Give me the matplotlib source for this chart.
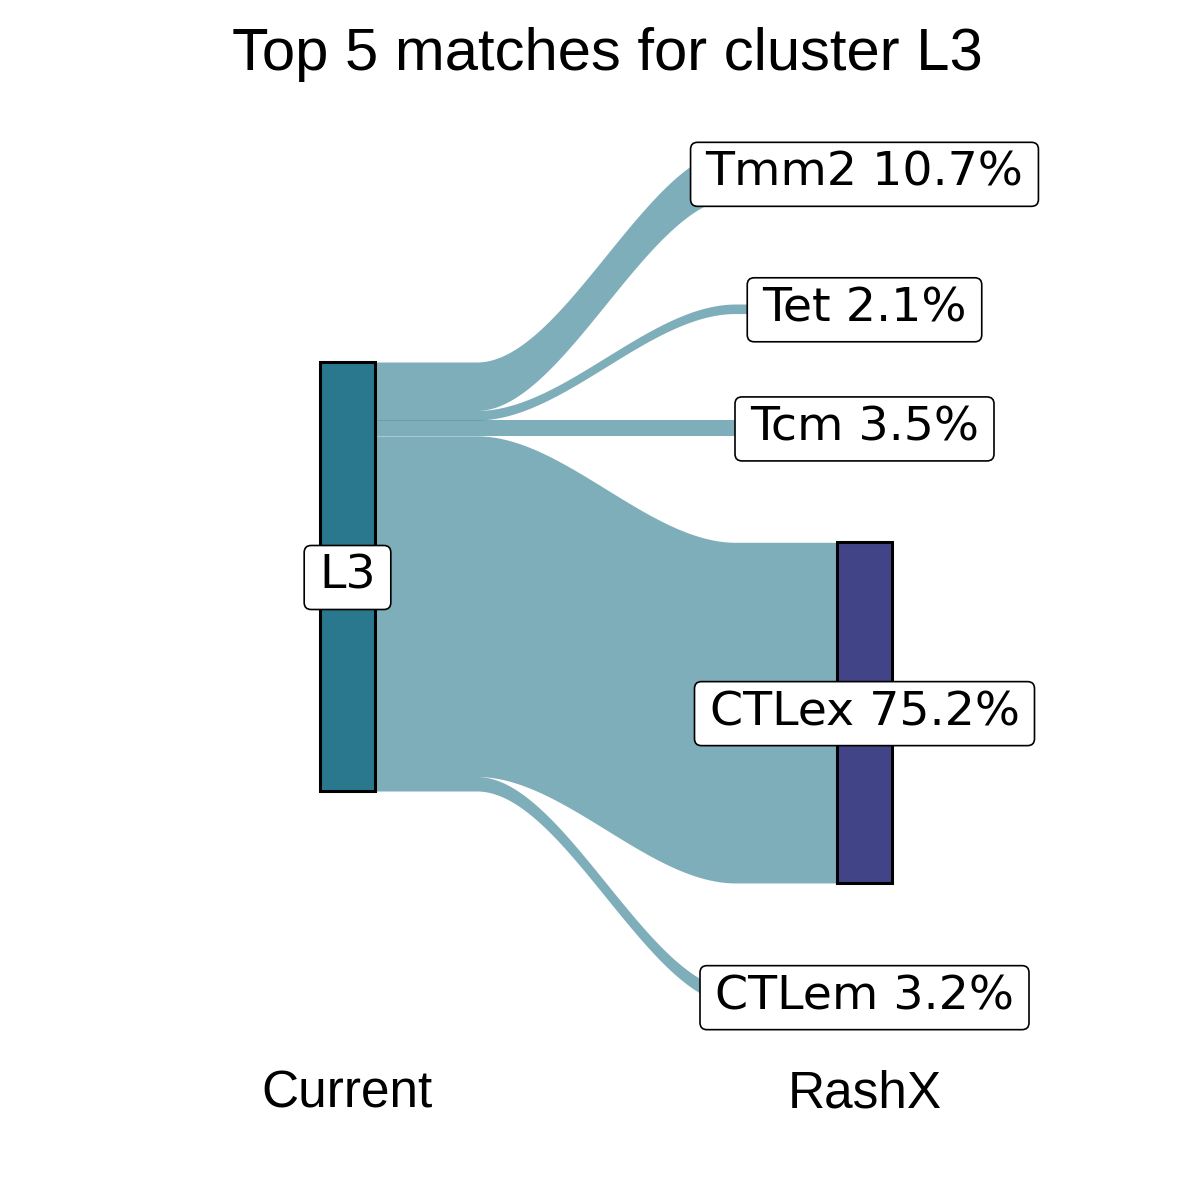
import matplotlib
matplotlib.use("Agg")
import matplotlib.pyplot as plt
from matplotlib.patches import Rectangle, FancyBboxPatch
from matplotlib.transforms import IdentityTransform
import numpy as np

# data
source = "L3"
targets = ["Tmm2", "Tet", "Tcm", "CTLex", "CTLem"]
percents = [10.7, 2.1, 3.5, 75.2, 3.2]
axis_names = ["Current", "RashX"]
title = "Top 5 matches for cluster L3"

left_col = "#2A788E"
right_col = "#414487"
flow_col = "#2A788E"

# layout (data units)
x_left, x_right = 1.0, 2.0
w = 0.106          # stratum width
gap = 23.5         # gap between right-hand strata


def sig(t):
    # flat ends, smooth s-shape in the middle (similar to ggalluvial xspline)
    u = np.clip((t - 0.22) / 0.56, 0, 1)
    return 3 * u**2 - 2 * u**3


fig = plt.figure(figsize=(12, 12), dpi=100)
ax = fig.add_axes([0, 0, 1, 1])
ax.set_xlim(1 - 347.5 / 517, 1 + (1200 - 347.5) / 517)
ax.set_ylim(-(1200 - 576.5) / 4.53, 576.5 / 4.53)
ax.axis("off")

total = sum(percents)
# left stratum spans whole total, right strata stacked with gaps
left_top = total / 2
right_top = (total + gap * (len(percents) - 1)) / 2

xs = np.linspace(x_left + w / 2, x_right - w / 2, 300)
t = (xs - xs[0]) / (xs[-1] - xs[0])

ly = left_top
ry = right_top
right_spans = []
for name, p in zip(targets, percents):
    l0, l1 = ly, ly - p
    r0, r1 = ry, ry - p
    top = l0 + (r0 - l0) * sig(t)
    bot = l1 + (r1 - l1) * sig(t)
    ax.fill_between(xs, bot, top, color=flow_col, alpha=0.6, lw=0, zorder=1)
    right_spans.append((r1, r0))
    ly -= p
    ry -= p + gap

# strata
ax.add_patch(Rectangle((x_left - w / 2, -total / 2), w, total,
                       facecolor=left_col, edgecolor="black", lw=2.2, zorder=2))
for name, (b, tp) in zip(targets, right_spans):
    ax.add_patch(Rectangle((x_right - w / 2, b), w, tp - b,
                           facecolor=right_col, edgecolor="black", lw=2.2, zorder=2))

# labels (boxes drawn afterwards, sized from the text extent)
labels = [ax.text(x_left, 0, source, ha="center", va="center", fontsize=34.2,
                  family="DejaVu Sans", zorder=4)]
for name, p, (b, tp) in zip(targets, percents, right_spans):
    labels.append(ax.text(x_right, (b + tp) / 2, f"{name} {p}%", ha="center",
                          va="center", fontsize=34.2, family="DejaVu Sans", zorder=4))

fig.text(0.506, 1 - 70 / 1200, title, ha="center", va="baseline",
         fontsize=43, family="Liberation Sans")
for xv, lab in zip([x_left, x_right], axis_names):
    ax.text(xv, -(1108 - 576.5) / 4.53, lab, ha="center", va="baseline",
            fontsize=37, family="Liberation Sans")

fig.canvas.draw()
r = fig.canvas.get_renderer()
for txt in labels:
    bb = txt.get_window_extent(r)
    cx = (bb.x0 + bb.x1) / 2
    cy = (bb.y0 + bb.y1) / 2 - 1
    bw = bb.width + 30
    bh = 64
    patch = FancyBboxPatch((cx - bw / 2, cy - bh / 2), bw, bh,
                           boxstyle="round,pad=0,rounding_size=7",
                           fc="white", ec="black", lw=1.2,
                           transform=IdentityTransform(), zorder=3)
    ax.add_artist(patch)

fig.savefig("out.png", dpi=100)
